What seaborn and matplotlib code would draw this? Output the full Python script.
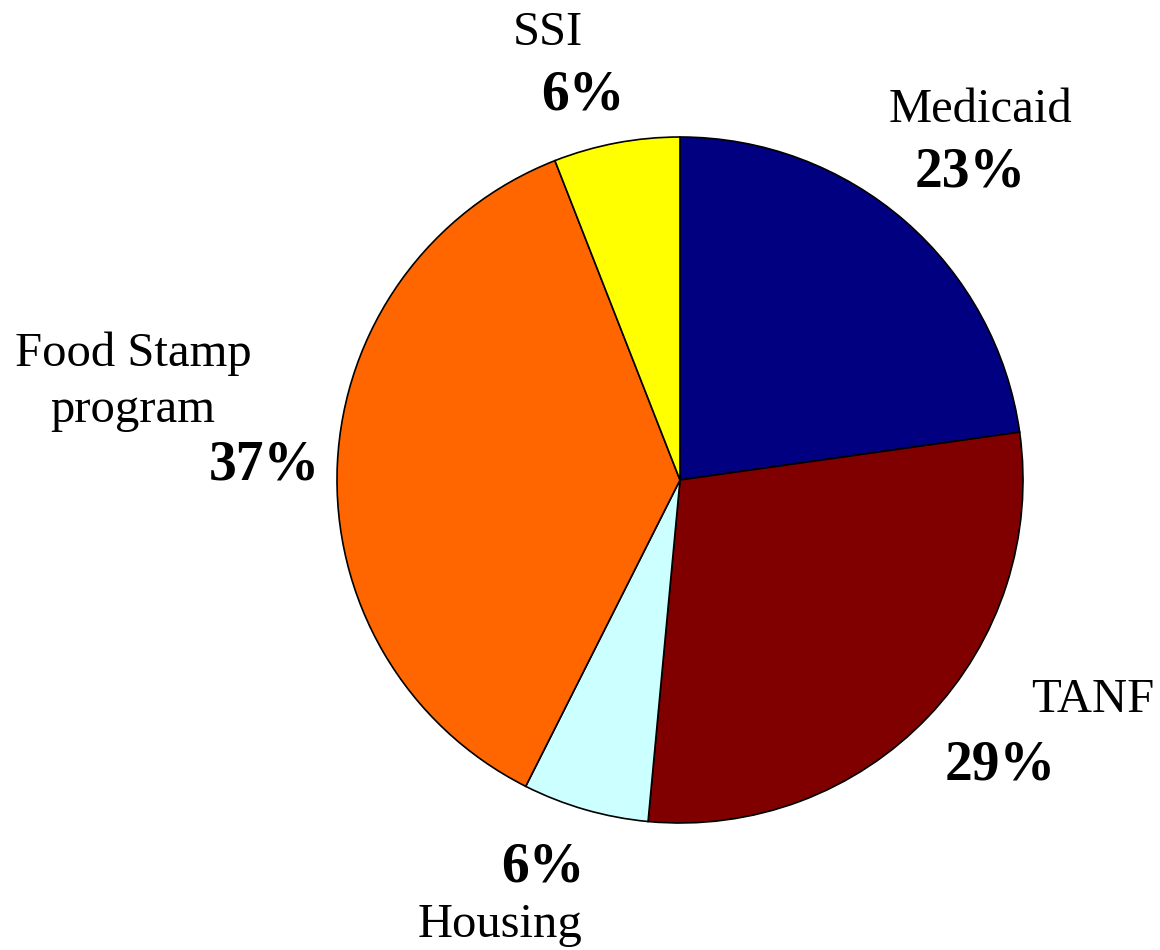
import matplotlib
matplotlib.use("Agg")
import matplotlib.pyplot as plt
import seaborn as sns

programs = ['Medicaid', 'TANF', 'Housing', 'Food Stamp\nprogram', 'SSI']
shares = [23, 29, 6, 37, 6]
colors = ['#000080', '#800000', '#CCFFFF', '#FF6600', '#FFFF00']

sns.set_theme(style='white')
plt.rcParams['font.family'] = ['Liberation Serif', 'DejaVu Serif']
plt.rcParams['text.color'] = 'black'

W, H = 1160, 950
cx, cy, r = 680, 480, 343

fig = plt.figure(figsize=(W / 100, H / 100), dpi=100)
ax = fig.add_axes([(cx - r) / W, (H - cy - r) / H, 2 * r / W, 2 * r / H])

ax.pie(shares, colors=sns.color_palette(colors), startangle=90, counterclock=False,
       radius=1, wedgeprops={'edgecolor': 'black', 'linewidth': 1.2})
ax.set_xlim(-1, 1)
ax.set_ylim(-1, 1)
ax.set_aspect('equal')
ax.axis('off')

def px(x, y):
    return (x - cx) / r, (cy - y) / r

# label placement in picture pixels: (name x, name y, pct x, pct y, pct align)
spots = [
    (980, 110, 970, 172, 'center'),
    (1093, 700, 1000, 765, 'center'),
    (500, 925, 543, 868, 'center'),
    (133, 382, 320, 465, 'right'),
    (548, 33, 583, 95, 'center'),
]

for name, val, (nx, ny, qx, qy, ha) in zip(programs, shares, spots):
    x, y = px(nx, ny)
    ax.text(x, y, name, ha='center', va='center', fontsize=35,
            linespacing=1.35, clip_on=False)
    x, y = px(qx, qy)
    ax.text(x, y, f'{val}%', ha=ha, va='center', fontsize=40,
            fontweight='bold', clip_on=False)

fig.savefig('out.png', dpi=100)
